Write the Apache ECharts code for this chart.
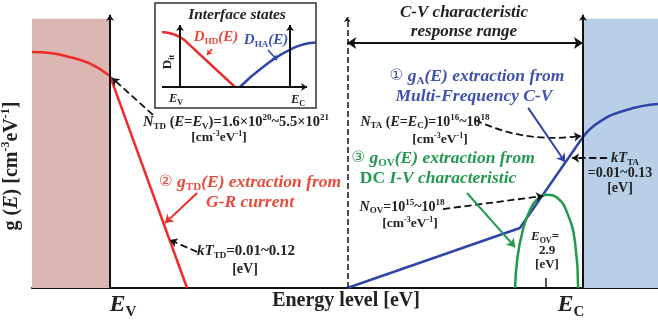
<!DOCTYPE html>
<html><head><meta charset="utf-8">
<script src="https://cdn.jsdelivr.net/npm/echarts@6/dist/echarts.min.js"></script>
<style>html,body{margin:0;padding:0;background:#fff}#c{width:658px;height:321px}</style>
</head><body><div id="c"></div>
<script>
// ---- band edges (eV) ----
const EV = 0, EC = 3.15, E_CV_MIN = 1.58, E_OV = 2.9;
const E_MIN = -0.52, E_MAX = 3.65;
const G_FILL_TOP = 100, G_ARROW_TOP = 101.5, G_RANGE_ARROW = 91;

// ---- g_TD(E) (red, donor-like tail) ----
const tdTailE = [-0.52, -0.40, -0.28, -0.14, 0];
const tdTailG = [87.7, 87.3, 85.9, 83.5, 78.7];
const tdLineE = [0, 0.513];
const tdLineG = [78.7, 0];

// ---- g_A(E) (blue, acceptor-like) ----
const taLowE = [1.58, 2.73, 3.15];
const taLowG = [0, 22.3, 56.1];
const taHighE = [3.15, 3.26, 3.44, 3.65];
const taHighG = [56.1, 61.7, 66.1, 68.3];

// ---- g_OV(E) (green, oxygen vacancy gaussian) ----
const ovE = [2.698, 2.712, 2.745, 2.798, 2.865, 2.911, 2.978, 3.045, 3.098, 3.118];
const ovG = [0, 10.4, 20.4, 29.0, 33.8, 34.6, 33.5, 27.9, 16.7, 0];

// ---- annotation arrows [E1, g1, E2, g2] ----
const dashArrows = [
  [0.286, 64.3, 0.013, 78.0],   // N_TD
  [0.580, 13.4, 0.400, 17.8],   // kT_TD
  [2.218, 29.3, 2.885, 34.2],   // N_OV
  [3.311, 48.3, 3.078, 48.3]    // kT_TA
];
const ntaArrow = [2.432, 62.4, 3.138, 56.5];
const redArrow = [0.580, 35.3, 0.366, 24.1];
const blueArrow = [2.785, 66.9, 3.031, 46.8];
const greenArrow = [2.378, 35.3, 2.698, 15.2];

// ---- inset (normalised energy 0=E_V, 1=E_C) ----
const inHdE = [-0.164, -0.11, -0.05, 0, 0.04, 0.08, 0.5];
const inHdD = [0.655, 0.645, 0.625, 0.595, 0.56, 0.51, 0];
const inHaE = [0.545, 0.755, 1.027, 1.236];
const inHaD = [0, 0.238, 0.464, 0.53];
const inRedArrow = [0.291, 0.452, 0.245, 0.381];
const inBlueArrow = [0.80, 0.44, 0.882, 0.321];

const RED = '#ee2b2b', BLUE = '#2f45a8', GREEN = '#1f9b4a';
const RED_T = '#ea4a3c', BLUE_T = '#3d52ac', GREEN_T = '#22994f';
const zip = (a, b) => a.map((v, i) => [v, b[i]]);
const FONT = '"Liberation Serif","DejaVu Serif",serif';

function lineS(data, color, width, smooth, xi) {
  return {type: 'line', data, smooth: smooth, showSymbol: false, symbol: 'none', z: 5,
    xAxisIndex: xi || 0, yAxisIndex: xi || 0, silent: true,
    lineStyle: {color, width}};
}
function arrowS(list, color, width, dashed, sym, size, xi, curve) {
  return {type: 'lines', coordinateSystem: 'cartesian2d', xAxisIndex: xi || 0, yAxisIndex: xi || 0,
    z: 6, silent: true, symbol: sym || ['none', 'arrow'], symbolSize: size || 8,
    lineStyle: {color, width, type: dashed ? 'dashed' : 'solid', curveness: curve || 0, opacity: 1},
    data: list.map(a => ({coords: [[a[0], a[1]], [a[2], a[3]]]}))};
}
function rich(color, size) {
  const s = Math.round(size * 0.62);
  return {
    t: {fill: color, fontFamily: FONT, fontSize: size, fontWeight: 'bold', lineHeight: size * 1.2},
    i: {fill: color, fontFamily: FONT, fontSize: size, fontWeight: 'bold', fontStyle: 'italic', lineHeight: size * 1.2},
    b: {fill: color, fontFamily: FONT, fontSize: s, fontWeight: 'bold', verticalAlign: 'bottom', lineHeight: size * 1.2},
    p: {fill: color, fontFamily: FONT, fontSize: s, fontWeight: 'bold', verticalAlign: 'top', lineHeight: size * 1.2},
    c: {fill: color, fontFamily: '"DejaVu Sans",sans-serif', fontSize: size - 2, lineHeight: size * 1.2}
  };
}
function T(x, y, text, color, size, rot) {
  return {type: 'text', x, y, z: 100, rotation: rot || 0, silent: true,
    style: {text, rich: rich(color, size), align: 'center', verticalAlign: 'middle',
      textAlign: 'center', textVerticalAlign: 'middle', fill: color,
      font: 'bold ' + size + 'px ' + FONT}};
}

const texts = [
  T(237, 15, '{i|Interface states}', '#222', 15.5),
  T(216, 37, '{i|D}{b|HD}{i|(E)}', RED_T, 15),
  T(266, 40, '{i|D}{b|HA}{i|(E)}', BLUE_T, 15),
  T(168, 62, '{t|D}{b|it}', '#222', 13, Math.PI / 2),
  T(176, 99, '{i|E}{b|V}', '#222', 12.5),
  T(298, 100, '{i|E}{b|C}', '#222', 12.5),
  T(236, 122, '{i|N}{b|TD}{t| (}{i|E}{t|=}{i|E}{b|V}{t|)=1.6×10}{p|20}{t|~5.5×10}{p|21}', '#222', 14.5),
  T(219, 138, '{t|[cm}{p|-3}{t|eV}{p|-1}{t|]}', '#222', 13.5),
  T(250, 182, '{c|②} {i|g}{b|TD}{i|(E) extraction from}', RED_T, 17.5),
  T(250, 202, '{i|G-R current}', RED_T, 17.5),
  T(246, 251, '{i|kT}{b|TD}{t|=0.01~0.12}', '#222', 15),
  T(245, 269, '{t|[eV]}', '#222', 14),
  T(464, 13, '{i|C-V characteristic}', '#222', 17),
  T(464, 32, '{i|response range}', '#222', 17),
  T(477, 76, '{c|①} {i|g}{b|A}{i|(E) extraction from}', BLUE_T, 17.5),
  T(474, 96, '{i|Multi-Frequency C-V}', BLUE_T, 17.5),
  T(425, 122, '{i|N}{b|TA}{t| (}{i|E}{t|=}{i|E}{b|C}{t|)=10}{p|16}{t|~10}{p|18}', '#222', 14),
  T(440, 140, '{t|[cm}{p|-3}{t|eV}{p|-1}{t|]}', '#222', 13.5),
  T(443, 158, '{c|③} {i|g}{b|OV}{i|(E) extraction from}', GREEN_T, 17.5),
  T(438, 178, '{t|DC }{i|I-V characteristic}', GREEN_T, 17.5),
  T(402, 207, '{i|N}{b|OV}{t|=10}{p|15}{t|~10}{p|18}', '#222', 14),
  T(410, 224, '{t|[cm}{p|-3}{t|eV}{p|-1}{t|]}', '#222', 13.5),
  T(545, 237, '{i|E}{b|OV}{t|=}', '#222', 13),
  T(547, 251, '{t|2.9}', '#222', 13),
  T(547, 265, '{t|[eV]}', '#222', 13),
  T(625, 158, '{i|kT}{b|TA}', '#222', 14.5),
  T(620, 173, '{t|=0.01~0.13}', '#222', 14),
  T(620, 188, '{t|[eV]}', '#222', 14),
  T(123, 305, '{i|E}{b|V}', '#222', 24),
  T(346, 301, '{t|Energy level [eV]}', '#222', 20),
  T(571, 305, '{i|E}{b|C}', '#222', 24),
  T(12, 166, '{t|g (}{i|E}{t|) [cm}{p|-3}{t|eV}{p|-1}{t|]}', '#222', 20, Math.PI / 2)
];

const chart = echarts.init(document.getElementById('c'), null, {renderer: 'canvas'});
chart.setOption({
  animation: false,
  backgroundColor: '#fff',
  grid: [
    {left: 32, top: 8, width: 626, height: 280, containLabel: false},
    {left: 155, top: 3, width: 161, height: 105, show: true, backgroundColor: '#fff', borderColor: '#333', borderWidth: 1.5}
  ],
  xAxis: [
    {type: 'value', min: E_MIN, max: E_MAX, gridIndex: 0,
      axisLine: {show: true, onZero: false, lineStyle: {color: '#111', width: 2}},
      axisTick: {show: false}, axisLabel: {show: false}, splitLine: {show: false}},
    {type: 'value', min: -0.227, max: 1.236, gridIndex: 1, show: false, splitLine: {show: false}}
  ],
  yAxis: [
    {type: 'value', min: 0, max: 104, gridIndex: 0, show: false, splitLine: {show: false}},
    {type: 'value', min: -0.25, max: 1.0, gridIndex: 1, show: false, splitLine: {show: false}}
  ],
  graphic: texts,
  series: [
    {type: 'line', data: [], z: 1, silent: true,
      markArea: {silent: true, data: [
        [{xAxis: E_MIN, yAxis: 0, itemStyle: {color: '#dbb6b3'}}, {xAxis: EV, yAxis: G_FILL_TOP}],
        [{xAxis: EC, yAxis: 0, itemStyle: {color: '#b8cfe7'}}, {xAxis: E_MAX, yAxis: G_FILL_TOP}]
      ]}},
    arrowS([[EV, 0, EV, G_ARROW_TOP], [EC, 0, EC, G_ARROW_TOP]], '#111', 2, false, ['none', 'arrow'], 6),
    arrowS([[E_CV_MIN, 0, E_CV_MIN, G_ARROW_TOP - 0.8]], '#111', 1.5, true, ['none', 'arrow'], 5),
    arrowS([[E_CV_MIN, G_RANGE_ARROW, EC, G_RANGE_ARROW]], '#111', 2, false, ['arrow', 'arrow'], 9),
    lineS(zip(tdTailE, tdTailG), RED, 2.5, true),
    lineS(zip(tdLineE, tdLineG), RED, 2.5, false),
    lineS(zip(taLowE, taLowG), BLUE, 2.5, false),
    lineS(zip(taHighE, taHighG), BLUE, 2.5, true),
    lineS(zip(ovE, ovG), GREEN, 2.5, true),
    arrowS([[E_OV, 0, E_OV, 3.7]], '#222', 1.5, false, ['none', 'none'], 1),
    arrowS(dashArrows, '#111', 1.8, true, ['none', 'arrow'], 7),
    arrowS([ntaArrow], '#111', 1.8, true, ['none', 'arrow'], 7, 0, -0.15),
    arrowS([redArrow], RED, 2, false, ['none', 'arrow'], 8),
    arrowS([blueArrow], BLUE, 2, false, ['none', 'arrow'], 8),
    arrowS([greenArrow], GREEN, 2, false, ['none', 'arrow'], 8),
    // inset
    arrowS([[-0.164, 0, 1.155, 0]], '#111', 2, false, ['none', 'arrow'], 6, 1),
    arrowS([[0, 0, 0, 0.738], [1, 0, 1, 0.738]], '#111', 2, false, ['none', 'arrow'], 6, 1),
    lineS(zip(inHdE, inHdD), RED, 2.5, false, 1),
    lineS(zip(inHaE, inHaD), BLUE, 2.5, true, 1),
    arrowS([inRedArrow], RED, 1.5, false, ['none', 'arrow'], 5, 1),
    arrowS([inBlueArrow], BLUE, 1.5, false, ['none', 'arrow'], 5, 1)
  ]
});
</script></body></html>
